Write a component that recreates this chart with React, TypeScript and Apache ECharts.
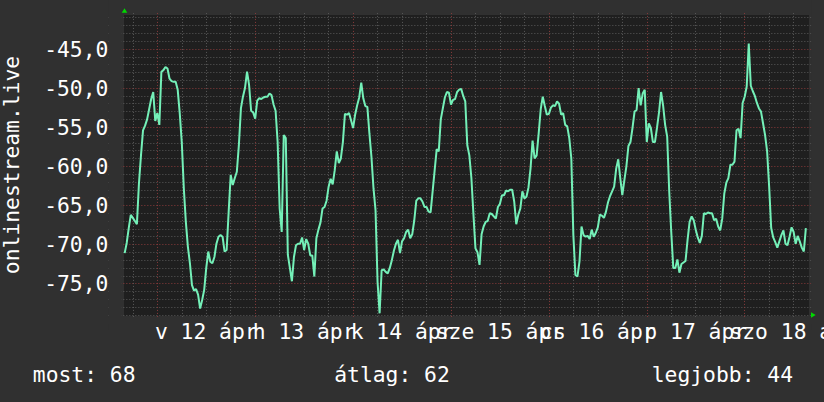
import { useEffect, useRef } from 'react';
import * as echarts from 'echarts';

// time axis: hours relative to 12 Apr 00:00
const startHour = -8;
const stepHours = 0.5;
const values = [
  -71.1, -69.8, -67.9, -66.2, -66.6, -67.0, -67.4, -62.2, -58.6, -55.4,
  -54.8, -54.0, -52.7, -51.4, -50.5, -54.2, -53.2, -54.7, -47.9, -47.7,
  -47.3, -47.5, -48.8, -49.1, -49.2, -49.2, -50.2, -53.2, -56.9, -62.8,
  -67.1, -70.3, -72.4, -75.2, -75.9, -75.7, -76.4, -78.2, -77.1, -75.8,
  -73.0, -70.9, -72.2, -72.4, -71.6, -69.9, -69.0, -68.8, -69.0, -70.9,
  -70.7, -65.8, -61.1, -62.4, -61.5, -60.7, -57.3, -52.6, -51.1, -50.0,
  -47.9, -49.6, -52.9, -53.1, -53.9, -51.6, -51.3, -51.4, -51.2, -51.1,
  -51.1, -50.7, -50.9, -52.1, -52.9, -56.9, -65.4, -68.4, -56.0, -56.4,
  -71.3, -73.0, -74.7, -71.6, -70.1, -69.9, -69.9, -69.1, -70.7, -69.3,
  -69.9, -71.4, -71.4, -74.1, -69.2, -68.1, -67.2, -65.4, -65.2, -64.4,
  -62.6, -61.6, -62.3, -60.5, -58.1, -59.6, -59.0, -56.9, -53.3, -53.4,
  -53.2, -54.1, -55.1, -53.4, -52.2, -51.2, -49.3, -51.3, -52.3, -52.4,
  -55.8, -58.8, -62.8, -65.6, -74.8, -78.8, -73.3, -73.2, -73.5, -73.7,
  -73.0, -72.0, -70.8, -69.9, -69.4, -71.1, -69.6, -69.2, -68.4, -68.1,
  -69.2, -68.7, -66.9, -64.4, -64.1, -64.1, -64.5, -65.2, -65.2, -65.8,
  -65.9, -63.2, -60.5, -57.8, -58.1, -54.0, -52.6, -51.2, -50.5, -50.6,
  -52.1, -51.5, -51.4, -50.5, -50.2, -50.1, -51.0, -51.7, -57.3, -58.6,
  -61.5, -66.1, -70.5, -71.0, -72.6, -68.7, -67.7, -67.1, -67.0, -66.0,
  -66.1, -66.4, -66.7, -65.2, -64.8, -63.7, -63.7, -63.1, -63.2, -63.0,
  -63.0, -64.5, -67.4, -66.2, -65.4, -63.2, -64.1, -63.9, -62.7, -60.3,
  -56.7, -59.0, -58.6, -55.8, -52.7, -51.1, -52.3, -53.4, -53.3, -52.5,
  -52.2, -52.3, -51.7, -52.0, -53.4, -53.2, -54.7, -54.9, -56.4, -59.0,
  -68.8, -73.9, -74.1, -72.2, -67.7, -68.8, -69.0, -68.9, -69.3, -68.1,
  -69.0, -68.5, -67.8, -66.2, -66.3, -66.6, -65.8, -64.6, -63.8, -63.2,
  -62.6, -60.3, -59.1, -61.5, -63.7, -61.8, -60.0, -57.4, -56.9, -55.1,
  -53.0, -52.8, -50.0, -52.2, -50.7, -50.2, -56.9, -54.5, -55.1, -56.9,
  -56.9, -55.1, -53.1, -50.5, -52.2, -54.7, -56.2, -63.2, -68.4, -73.0,
  -73.0, -71.9, -73.6, -72.5, -72.3, -72.1, -69.4, -67.1, -66.4, -66.9,
  -68.1, -69.1, -69.8, -68.9, -66.0, -66.1, -65.9, -66.0, -66.0, -66.9,
  -66.7, -67.7, -68.2, -66.7, -63.5, -62.1, -61.5, -59.8, -59.8, -59.4,
  -55.4, -55.2, -56.4, -51.9, -51.1, -49.8, -44.3, -49.7, -50.4, -51.0,
  -51.9, -52.6, -53.0, -54.5, -56.0, -58.1, -62.6, -67.9, -69.1, -69.7,
  -70.4, -69.6, -68.8, -68.2, -69.9, -70.1, -69.0, -67.8, -68.4, -69.9,
  -68.9, -69.6, -70.4, -70.9, -67.9,
];

const dayLabels = ['v 12 ápr', 'h 13 ápr', 'k 14 ápr', 'sze 15 ápr', 'cs 16 ápr', 'p 17 ápr', 'szo 18 ápr'];
const dayLabelHours = [12, 36, 60, 84, 108, 132, 156];

const yTitle = 'onlinestream.live';
const statCurrent = 'most: 68';
const statAverage = 'átlag: 62';
const statBest = 'legjobb: 44';

const FONT = "'DejaVu Sans Mono', 'Liberation Mono', monospace";
const FS = 21.33;
const BG = '#303030';
const PLOT_BG = '#1f1f1f';
const MINOR = '#5a5a5a';
const MAJOR = '#8a3b3b';
const LINE = '#74f0b8';
const ARROW = '#00d800';

export default function App() {
  const ref = useRef<HTMLDivElement>(null);

  useEffect(() => {
    if (!ref.current) return;
    document.body.style.margin = '0';
    document.body.style.background = BG;
    const chart = echarts.init(ref.current, undefined, { renderer: 'svg' });

    const data = values.map((v, i) => [startHour + i * stepHours, v]);

    const option: any = {
      animation: false,
      backgroundColor: BG,
      grid: {
        left: 108.35,
        right: 5.9,
        top: 9.9,
        bottom: 79.3,
        containLabel: false,
        outerBoundsMode: 'none',
      },
      xAxis: [
        {
          type: 'value',
          min: -12,
          max: 162,
          interval: 6,
          position: 'bottom',
          z: 1,
          axisLine: { show: false },
          axisTick: { show: false },
          axisLabel: { show: false },
          splitLine: {
            show: true,
            showMinLine: false,
            showMaxLine: false,
            lineStyle: { color: [MINOR, MAJOR, MINOR, MINOR], type: [1, 2], width: 1 },
          },
        },
        {
          type: 'value',
          min: -12,
          max: 162,
          interval: 6,
          position: 'bottom',
          z: 4,
          axisLine: { show: false },
          axisTick: { show: false },
          splitLine: { show: false },
          axisLabel: {
            show: true,
            margin: -2,
            color: '#ffffff',
            fontFamily: FONT,
            fontSize: FS,
            showMinLabel: false,
            showMaxLabel: false,
            formatter: (v: number) => {
              const idx = dayLabelHours.findIndex((h) => Math.abs(h - v) < 1e-6);
              return idx >= 0 ? dayLabels[idx] : '';
            },
          },
        },
      ],
      yAxis: [
        {
          type: 'value',
          min: -80,
          max: -40,
          interval: 5,
          position: 'left',
          z: 1,
          axisLine: { show: false },
          axisTick: { show: false },
          axisLabel: { show: false },
          splitLine: {
            show: true,
            showMinLine: false,
            showMaxLine: false,
            lineStyle: { color: MAJOR, type: [1, 2], width: 1 },
          },
          minorTick: { show: false, splitNumber: 5 },
          minorSplitLine: { show: true, lineStyle: { color: MINOR, type: [1, 2], width: 1 } },
        },
        {
          type: 'value',
          min: -80,
          max: -40,
          interval: 5,
          position: 'left',
          z: 4,
          axisLine: { show: false },
          axisTick: { show: false },
          splitLine: { show: false },
          axisLabel: {
            show: true,
            margin: 0,
            color: '#ffffff',
            fontFamily: FONT,
            fontSize: FS,
            formatter: (v: number) =>
              v <= -80 || v >= -40 ? '' : v.toFixed(1).replace('.', ','),
          },
        },
      ],
      series: [
        {
          type: 'line',
          xAxisIndex: 0,
          yAxisIndex: 0,
          data,
          showSymbol: false,
          symbol: 'none',
          z: 3,
          lineStyle: { color: LINE, width: 2 },
        },
      ],
      graphic: {
        elements: [
          { type: 'rect', z: 0, shape: { x: 124, y: 15, width: 685, height: 301 }, style: { fill: PLOT_BG } },
          { type: 'rect', z: 2, shape: { x: 100, y: 0, width: 724, height: 12.7 }, style: { fill: BG } },
          { type: 'rect', z: 2, shape: { x: 108.6, y: 0, width: 12.9, height: 330 }, style: { fill: BG } },
          { type: 'rect', z: 2, shape: { x: 811.2, y: 0, width: 13, height: 330 }, style: { fill: BG } },
          { type: 'rect', z: 2, shape: { x: 100, y: 318, width: 724, height: 6 }, style: { fill: BG } },
          {
            type: 'polygon', z: 5,
            shape: { points: [[121.7, 12.7], [127.3, 12.7], [124.5, 8.3]] },
            style: { fill: ARROW },
          },
          {
            type: 'polygon', z: 5,
            shape: { points: [[811, 312.3], [811, 317.7], [815.7, 315]] },
            style: { fill: ARROW },
          },
          {
            type: 'text', z: 5, x: 11.1, y: 165, rotation: Math.PI / 2,
            style: { text: yTitle, fill: '#ffffff', fontFamily: FONT, fontSize: FS, align: 'center', verticalAlign: 'middle' },
          },
          {
            type: 'text', z: 5, x: 32.8, y: 374.6,
            style: { text: statCurrent, fill: '#ffffff', fontFamily: FONT, fontSize: FS, align: 'left', verticalAlign: 'middle' },
          },
          {
            type: 'text', z: 5, x: 392, y: 374.6,
            style: { text: statAverage, fill: '#ffffff', fontFamily: FONT, fontSize: FS, align: 'center', verticalAlign: 'middle' },
          },
          {
            type: 'text', z: 5, x: 793, y: 374.6,
            style: { text: statBest, fill: '#ffffff', fontFamily: FONT, fontSize: FS, align: 'right', verticalAlign: 'middle' },
          },
        ],
      },
    };

    chart.setOption(option);
    return () => chart.dispose();
  }, []);

  return (
    <div
      ref={ref}
      style={{ position: 'fixed', left: 0, top: 0, width: 824, height: 402 }}
    />
  );
}
